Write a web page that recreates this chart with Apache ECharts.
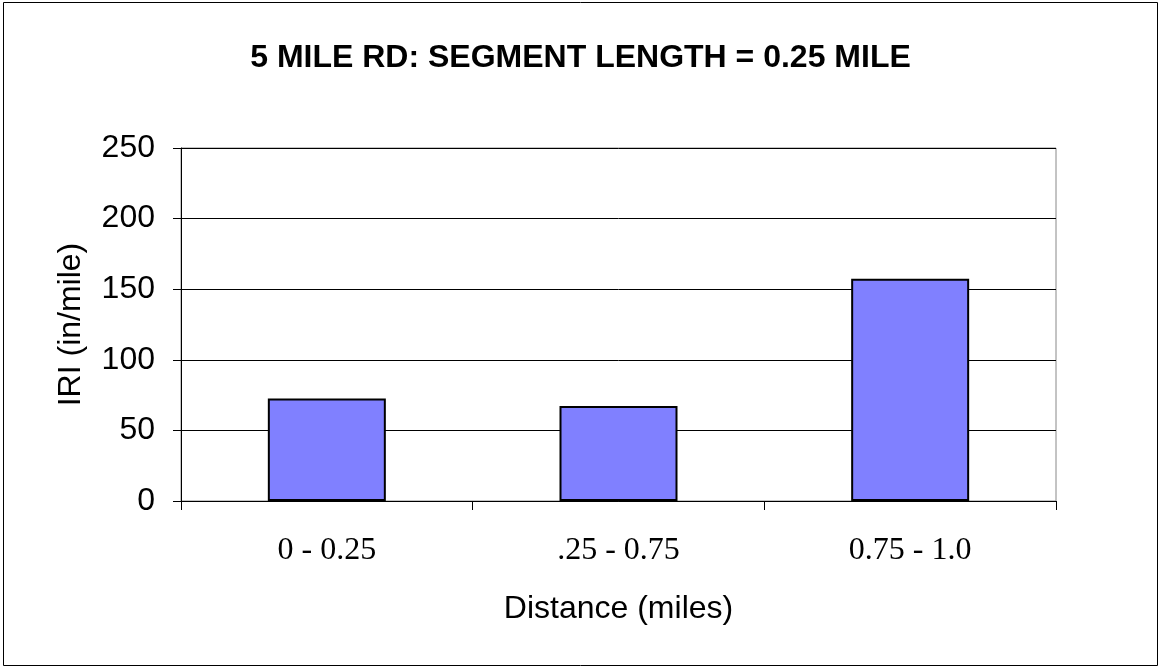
<!DOCTYPE html>
<html><head><meta charset="utf-8">
<script src="https://cdn.jsdelivr.net/npm/echarts@6/dist/echarts.min.js"></script>
<style>html,body{margin:0;padding:0;background:#fff}#c{width:1161px;height:669px}</style>
</head><body><div id="c"></div>
<script>
const title = '5 MILE RD: SEGMENT LENGTH = 0.25 MILE';
const categories = ['0 - 0.25', '.25 - 0.75', '0.75 - 1.0'];
const iriValues = [72.6, 67.3, 157.4];
const yTicks = [0, 50, 100, 150, 200, 250];
const xName = 'Distance (miles)';
const yName = 'IRI (in/mile)';

const chart = echarts.init(document.getElementById('c'), null, {renderer: 'canvas'});
chart.setOption({
  animation: false,
  backgroundColor: '#fff',
  graphic: [{type: 'rect', shape: {x: 3.5, y: 2.5, width: 1154, height: 663}, style: {fill: 'none', stroke: '#000', lineWidth: 1}}],
  title: {text: title, left: 'center', top: 37, textStyle: {fontFamily: 'Liberation Sans, Arial', fontWeight: 'bold', fontSize: 32, color: '#000'}},
  grid: {left: 181, top: 148, width: 875, height: 353, show: true, borderColor: '#888', borderWidth: 1, backgroundColor: 'transparent'},
  xAxis: {
    type: 'category', data: categories,
    name: xName, nameLocation: 'middle', nameGap: 92,
    nameTextStyle: {fontFamily: 'Liberation Sans, Arial', fontSize: 32, color: '#000'},
    axisLine: {lineStyle: {color: '#000', width: 1}},
    axisTick: {show: true, alignWithLabel: false, length: 9, lineStyle: {color: '#000'}},
    axisLabel: {fontFamily: 'Liberation Serif, Times New Roman', fontSize: 32, color: '#000', margin: 34}
  },
  yAxis: {
    type: 'value', min: 0, max: 250, interval: 50,
    name: yName, nameLocation: 'middle', nameGap: 94,
    nameTextStyle: {fontFamily: 'Liberation Sans, Arial', fontSize: 32, color: '#000'},
    axisLine: {show: true, lineStyle: {color: '#000', width: 1}},
    axisTick: {show: true, length: 8, lineStyle: {color: '#000'}},
    axisLabel: {fontFamily: 'Liberation Sans, Arial', fontSize: 32, color: '#000', margin: 26,
      formatter: v => yTicks.includes(v) ? String(v) : ''},
    splitLine: {show: true, lineStyle: {color: '#000', width: 1}}
  },
  series: [{
    type: 'bar', data: iriValues, barWidth: 118,
    itemStyle: {color: '#8080FF', borderColor: '#000', borderWidth: 2}
  }]
});
</script></body></html>
